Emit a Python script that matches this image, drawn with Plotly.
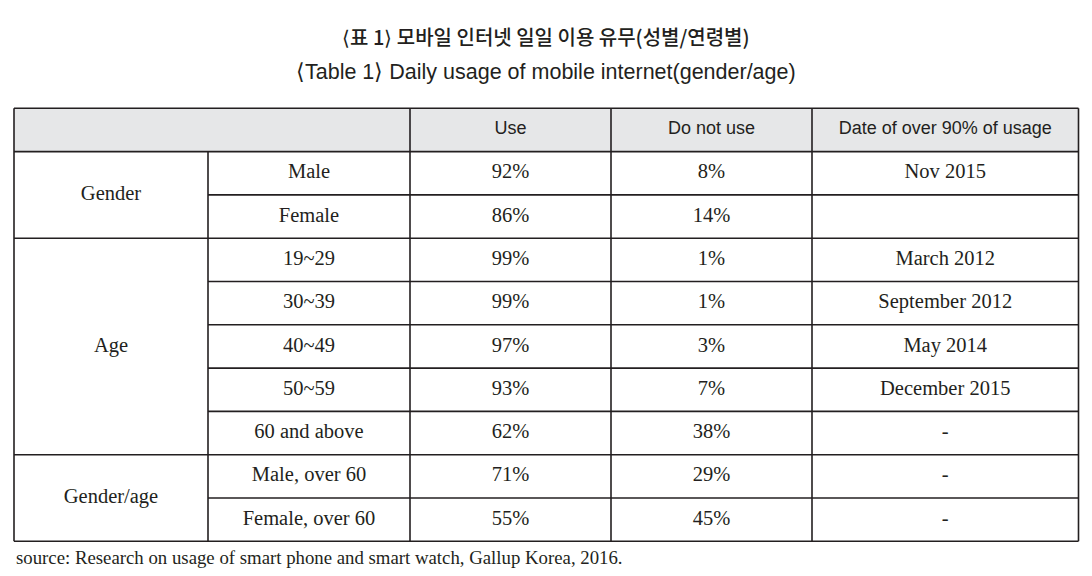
import plotly.graph_objects as go

# ---------------- data ----------------
title_ko = "⟨표 1⟩ 모바일 인터넷 일일 이용 유무(성별/연령별)"
title_en = "⟨Table 1⟩ Daily usage of mobile internet(gender/age)"
headers = ["", "Use", "Do not use", "Date of over 90% of usage"]
groups = ["Gender", "Age", "Gender/age"]
group_sizes = [2, 5, 2]
subcats = ["Male", "Female", "19~29", "30~39", "40~49", "50~59",
           "60 and above", "Male, over 60", "Female, over 60"]
use_pct = [92, 86, 99, 99, 97, 93, 62, 71, 55]
not_use_pct = [8, 14, 1, 1, 3, 7, 38, 29, 45]
date90 = ["Nov 2015", "", "March 2012", "September 2012", "May 2014",
          "December 2015", "-", "-", "-"]
source = "source: Research on usage of smart phone and smart watch, Gallup Korea, 2016."

# ---------------- layout geometry ----------------
W, H = 1092, 576
col_edges = [14, 208, 410, 611, 812, 1078.5]
top = 108.3
row_h = 43.3
n_rows = len(subcats)
header_bottom = top + row_h
row_edges = [header_bottom + i * row_h for i in range(n_rows + 1)]
bottom = row_edges[-1]

line_col = "#231f20"
lw = 1.6
serif = "Liberation Serif, DejaVu Serif, serif"
sans = "Liberation Sans, Arial, sans-serif"
txt_col = "#231f20"

fig = go.Figure()
shapes = []

# header background
shapes.append(dict(type="rect", xref="x", yref="y", x0=col_edges[0], x1=col_edges[-1],
                   y0=top, y1=header_bottom, fillcolor="#e6e7e8", line=dict(width=0), layer="below"))

def hline(x0, x1, y):
    shapes.append(dict(type="line", xref="x", yref="y", x0=x0, x1=x1, y0=y, y1=y,
                       line=dict(color=line_col, width=lw)))

def vline(x, y0, y1):
    shapes.append(dict(type="line", xref="x", yref="y", x0=x, x1=x, y0=y0, y1=y1,
                       line=dict(color=line_col, width=lw)))

# horizontal lines
hline(col_edges[0], col_edges[-1], top)
hline(col_edges[0], col_edges[-1], header_bottom)
group_starts = [0]
for s in group_sizes:
    group_starts.append(group_starts[-1] + s)
for i in range(1, n_rows + 1):
    y = row_edges[i]
    if i in group_starts:
        hline(col_edges[0], col_edges[-1], y)
    else:
        hline(col_edges[1], col_edges[-1], y)

# vertical lines
vline(col_edges[0], top, bottom)
vline(col_edges[-1], top, bottom)
vline(col_edges[1], header_bottom, bottom)
for x in col_edges[2:-1]:
    vline(x, top, bottom)

def centers(a, b):
    return (a + b) / 2

# headers
hx = [centers(col_edges[i + 1], col_edges[i + 2]) for i in range(1, 4)]
fig.add_trace(go.Scatter(x=hx, y=[centers(top, header_bottom)] * 3, mode="text",
                         text=headers[1:], textfont=dict(family=sans, size=18, color=txt_col),
                         hoverinfo="skip", showlegend=False))

# groups
gx, gy = [], []
for gi, g in enumerate(groups):
    r0, r1 = group_starts[gi], group_starts[gi + 1]
    gx.append(centers(col_edges[0], col_edges[1]))
    gy.append(centers(row_edges[r0], row_edges[r1]))
fig.add_trace(go.Scatter(x=gx, y=gy, mode="text", text=groups,
                         textfont=dict(family=serif, size=20.5, color=txt_col),
                         hoverinfo="skip", showlegend=False))

row_y = [centers(row_edges[i], row_edges[i + 1]) for i in range(n_rows)]
cols_text = [subcats,
             [f"{v}%" for v in use_pct],
             [f"{v}%" for v in not_use_pct],
             date90]
for ci, texts in enumerate(cols_text):
    cx = centers(col_edges[ci + 1], col_edges[ci + 2])
    fig.add_trace(go.Scatter(x=[cx] * n_rows, y=row_y, mode="text", text=texts,
                             textfont=dict(family=serif, size=20.5, color=txt_col),
                             hoverinfo="skip", showlegend=False))

annotations = [
    dict(x=W / 2, y=36, xref="x", yref="y", text=title_ko, showarrow=False,
         font=dict(family="Noto Sans CJK KR", size=20, color=txt_col, weight=500)),
    dict(x=W / 2, y=72, xref="x", yref="y", text=title_en, showarrow=False,
         font=dict(family=sans, size=21.5, color=txt_col)),
    dict(x=14, y=557, xref="x", yref="y", text=source, showarrow=False, xanchor="left",
         font=dict(family=serif, size=18.8, color=txt_col)),
]

fig.update_layout(
    width=W, height=H, margin=dict(l=0, r=0, t=0, b=0),
    paper_bgcolor="white", plot_bgcolor="white",
    xaxis=dict(range=[0, W], visible=False, fixedrange=True),
    yaxis=dict(range=[H, 0], visible=False, fixedrange=True),
    shapes=shapes, annotations=annotations,
)
fig.write_html("out.html", config={"displayModeBar": False},
               post_script="document.body.style.margin='0';document.body.style.overflow='hidden';")
